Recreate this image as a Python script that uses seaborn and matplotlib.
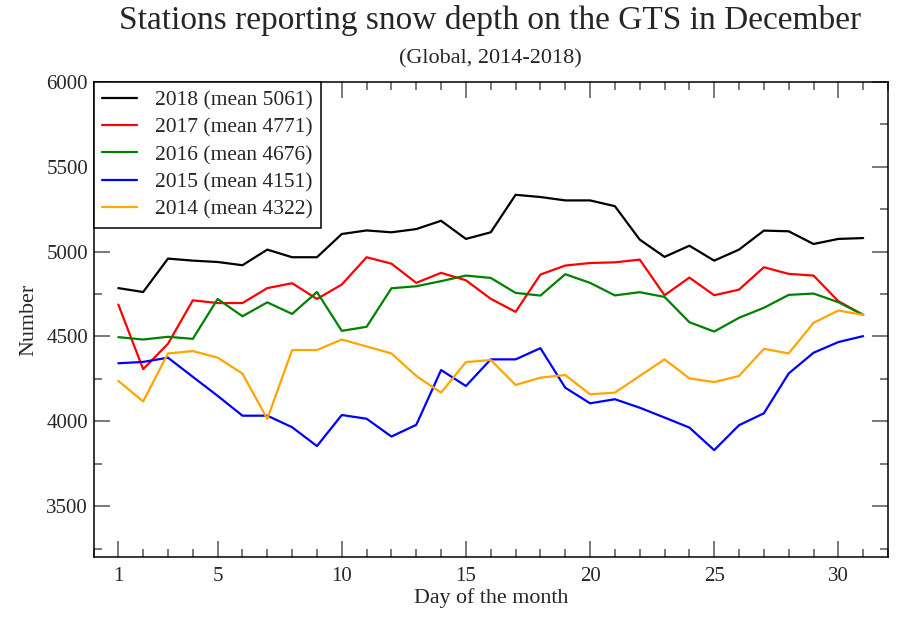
import numpy as np
import pandas as pd
import matplotlib
matplotlib.use("Agg")
import matplotlib.pyplot as plt
import seaborn as sns
from matplotlib.ticker import FixedLocator, MultipleLocator

days = list(range(1, 32))
snow_2018 = [4785, 4762, 4959, 4947, 4939, 4920, 5012, 4967, 4967, 5104, 5125,
             5114, 5133, 5182, 5075, 5114, 5335, 5322, 5302, 5302, 5268,
             5071, 4969, 5035, 4947, 5012, 5124, 5120, 5045, 5075, 5080]
snow_2017 = [4688, 4307, 4457, 4713, 4697, 4697, 4785, 4814, 4721, 4806, 4967,
             4929, 4816, 4875, 4831, 4722, 4645, 4865, 4918, 4933, 4937,
             4953, 4743, 4847, 4743, 4776, 4908, 4869, 4859, 4708, 4627]
snow_2016 = [4496, 4482, 4498, 4486, 4721, 4619, 4701, 4633, 4762, 4533, 4557,
             4784, 4796, 4826, 4859, 4845, 4757, 4741, 4867, 4816, 4742,
             4761, 4733, 4584, 4529, 4610, 4669, 4745, 4753, 4702, 4627]
snow_2015 = [4342, 4350, 4375, 4262, 4150, 4033, 4033, 3965, 3854, 4037, 4015,
             3910, 3979, 4302, 4208, 4365, 4365, 4431, 4198, 4106, 4130,
             4080, 4022, 3963, 3830, 3977, 4047, 4282, 4404, 4467, 4502]
snow_2014 = [4238, 4117, 4400, 4414, 4375, 4281, 4014, 4420, 4420, 4482, 4441,
             4400, 4267, 4169, 4349, 4361, 4214, 4257, 4273, 4159, 4169,
             4267, 4365, 4253, 4231, 4267, 4427, 4400, 4580, 4653, 4627]

series_labels = ["2018 (mean 5061)", "2017 (mean 4771)", "2016 (mean 4676)",
                 "2015 (mean 4151)", "2014 (mean 4322)"]
series_colors = ["black", "#ff0000", "#008000", "#0000ff", "#ffa500"]
series_values = [snow_2018, snow_2017, snow_2016, snow_2015, snow_2014]

x_major = [1, 5, 10, 15, 20, 25, 30]
y_major = [3500, 4000, 4500, 5000, 5500, 6000]

frames = []
for lab, vals in zip(series_labels, series_values):
    frames.append(pd.DataFrame({"day": days, "value": vals, "series": lab}))
df = pd.concat(frames, ignore_index=True)

sns.set_style("ticks")
plt.rcParams["font.family"] = ["Liberation Serif", "DejaVu Serif"]

fig = plt.figure(figsize=(9, 6.18), dpi=100)
ax = fig.add_axes([93.5 / 900, 1 - 557 / 618, (888 - 93.5) / 900, (557 - 82) / 618])

sns.lineplot(data=df, x="day", y="value", hue="series", hue_order=series_labels,
             palette=dict(zip(series_labels, series_colors)), linewidth=1.6,
             ax=ax, legend=True)

ax.set_xlim(0, 32)
ax.set_ylim(3200, 6000)
ax.xaxis.set_major_locator(FixedLocator(x_major))
ax.xaxis.set_minor_locator(MultipleLocator(1))
ax.yaxis.set_major_locator(FixedLocator(y_major))
ax.yaxis.set_minor_locator(MultipleLocator(250))
ax.tick_params(which="both", direction="in", top=True, right=True,
               color="#555555", width=1.1, labelsize=15)
ax.tick_params(which="major", length=11.5)
ax.tick_params(which="minor", length=5.8)
ax.tick_params(axis="x", which="major", pad=7)
ax.tick_params(axis="y", which="major", pad=4)
for s in ax.spines.values():
    s.set_linewidth(1.1)
    s.set_color("black")

ax.set_xlabel("Day of the month", fontsize=15.8, labelpad=2)
ax.set_ylabel("Number", fontsize=15.8, labelpad=6)

leg = ax.legend(loc="upper left", bbox_to_anchor=(0, 1), borderaxespad=0,
                fancybox=False, frameon=True, edgecolor="black", fontsize=15.5,
                handlelength=1.6, handletextpad=0.85, labelspacing=0.33,
                borderpad=0.4)
leg.get_frame().set_linewidth(1.1)
leg.get_frame().set_alpha(1)
for line in leg.get_lines():
    line.set_linewidth(1.6)

fig.text(0.5445, 1 - 21 / 618, "Stations reporting snow depth on the GTS in December",
         ha="center", va="center", fontsize=24)
fig.text(0.5445, 1 - 59 / 618, "(Global, 2014-2018)", ha="center", va="center",
         fontsize=16)

fig.savefig("out.png", dpi=100)
